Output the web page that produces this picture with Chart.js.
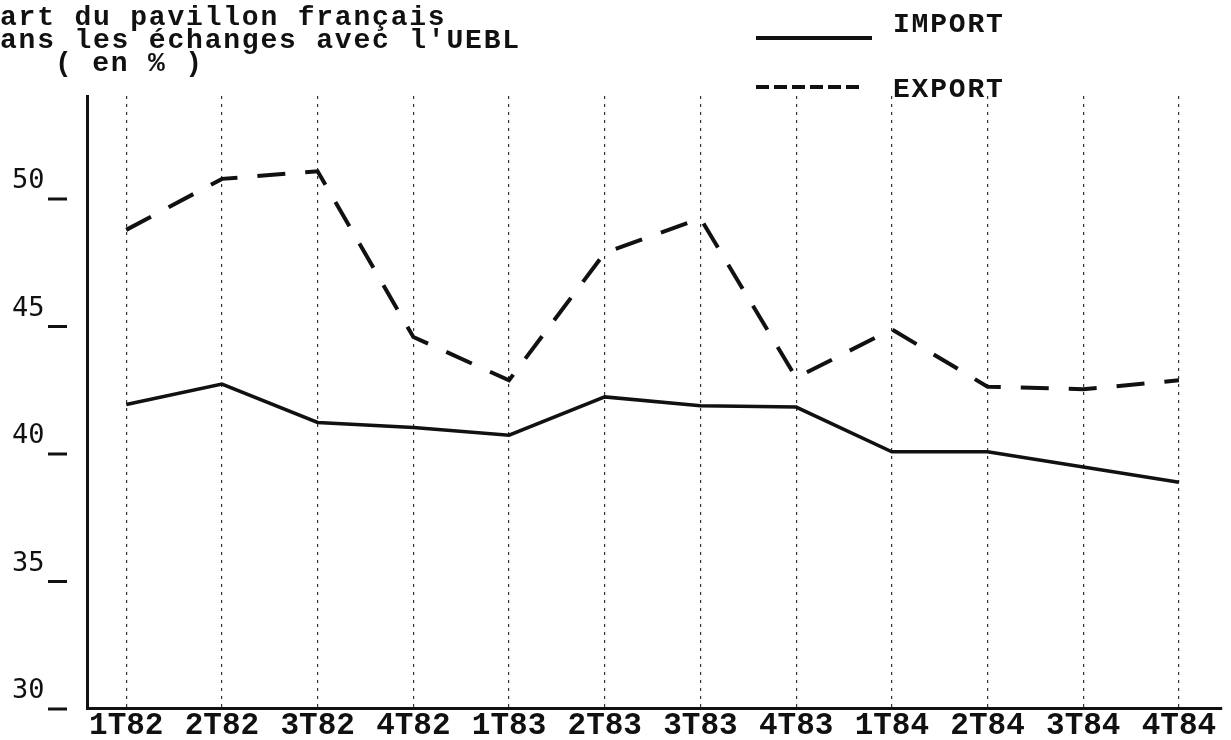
<!DOCTYPE html>
<html lang="fr">
<head>
<meta charset="utf-8">
<title>Part du pavillon français dans les échanges avec l'UEBL</title>
<script src="https://cdn.jsdelivr.net/npm/chart.js@4.4.1/dist/chart.umd.min.js"></script>
<style>
  html, body { margin: 0; padding: 0; background: #fff; }
  #wrap { position: relative; width: 1231px; height: 740px; }
</style>
</head>
<body>
<div id="wrap"><canvas id="pavillon-chart"></canvas></div>
<script>
const quarters = ["1T82", "2T82", "3T82", "4T82", "1T83", "2T83", "3T83", "4T83", "1T84", "2T84", "3T84", "4T84"];
const importShare = [41.9, 42.7, 41.2, 41.0, 40.7, 42.2, 41.85, 41.8, 40.05, 40.05, 39.45, 38.85];
const exportShare = [48.75, 50.75, 51.05, 44.55, 42.85, 47.85, 49.2, 42.95, 44.85, 42.6, 42.5, 42.85];
const yTicks = [30, 35, 40, 45, 50];
const titleLines = ["art du pavillon français", "ans les échanges avec l'UEBL", "( en % )"];

const INK = "#111";
const TYPE_FONT = "bold 28px 'Liberation Mono', 'DejaVu Sans Mono', monospace";

const toPoints = (values) => values.map((v, i) => ({ x: i, y: v }));

// white paper behind everything
const paperBackground = {
  id: "paperBackground",
  beforeDraw(chart) {
    const { ctx, width, height } = chart;
    ctx.save();
    ctx.fillStyle = "#fff";
    ctx.fillRect(0, 0, width, height);
    ctx.restore();
  },
};

// typed heading, legend and the little "_" marks next to the y values
const typedLabels = {
  id: "typedLabels",
  afterDraw(chart) {
    const { ctx, chartArea } = chart;
    const yScale = chart.scales.y;
    ctx.save();
    ctx.fillStyle = INK;
    ctx.strokeStyle = INK;
    ctx.font = TYPE_FONT;
    ctx.letterSpacing = "1.8px";
    ctx.textBaseline = "alphabetic";
    ctx.textAlign = "left";
    ctx.fillText(titleLines[0], 0, 25);
    ctx.fillText(titleLines[1], 0, 48);
    ctx.fillText(titleLines[2], 55, 71);

    chart.data.datasets.forEach((ds, i) => {
      const lineY = i === 0 ? 38 : 87;
      const textY = i === 0 ? 32 : 97;
      ctx.lineWidth = 4;
      ctx.setLineDash(i === 0 ? [] : [13, 5]);
      ctx.beginPath();
      ctx.moveTo(756, lineY);
      ctx.lineTo(i === 0 ? 872 : 864, lineY);
      ctx.stroke();
      ctx.setLineDash([]);
      ctx.fillText(ds.label, 893, textY);
    });

    ctx.lineWidth = 3;
    yTicks.forEach((v) => {
      const py = yScale.getPixelForValue(v) + 1;
      ctx.beginPath();
      ctx.moveTo(chartArea.left - 39, py);
      ctx.lineTo(chartArea.left - 20, py);
      ctx.stroke();
    });
    ctx.restore();
  },
};

new Chart(document.getElementById("pavillon-chart"), {
  type: "line",
  data: {
    datasets: [
      {
        label: "IMPORT",
        data: toPoints(importShare),
        borderColor: INK,
        borderWidth: 3.5,
        pointRadius: 0,
        tension: 0,
        fill: false,
      },
      {
        label: "EXPORT",
        data: toPoints(exportShare),
        borderColor: INK,
        borderWidth: 4,
        borderDash: [28, 20],
        pointRadius: 0,
        tension: 0,
        fill: false,
      },
    ],
  },
  options: {
    responsive: true,
    maintainAspectRatio: false,
    animation: false,
    layout: { padding: { top: 96, right: 9, left: 12, bottom: 0 } },
    plugins: {
      legend: { display: false },
      tooltip: { enabled: false },
    },
    scales: {
      x: {
        type: "linear",
        min: -0.41,
        max: 11.45,
        afterFit: (scale) => { scale.height = 32; },
        ticks: {
          stepSize: 1,
          includeBounds: false,
          autoSkip: false,
          maxRotation: 0,
          padding: 0,
          color: INK,
          font: { family: "'Liberation Mono', 'DejaVu Sans Mono', monospace", size: 31, weight: "bold" },
          callback: (value) => quarters[value] ?? "",
        },
        grid: {
          drawOnChartArea: true,
          drawTicks: false,
          color: "#333",
          lineWidth: 1.2,
        },
        border: { display: true, color: INK, width: 3, dash: [3, 5] },
      },
      y: {
        min: 30,
        max: 54,
        afterFit: (scale) => { scale.width = 75; },
        afterBuildTicks: (scale) => { scale.ticks = yTicks.map((v) => ({ value: v })); },
        ticks: {
          padding: 0,
          crossAlign: "far",
          labelOffset: -17,
          color: INK,
          font: { family: "'DejaVu Sans Mono', monospace", size: 27 },
        },
        grid: { drawOnChartArea: false, drawTicks: false },
        border: { display: true, color: INK, width: 3 },
      },
    },
  },
  plugins: [paperBackground, typedLabels],
});
</script>
</body>
</html>
